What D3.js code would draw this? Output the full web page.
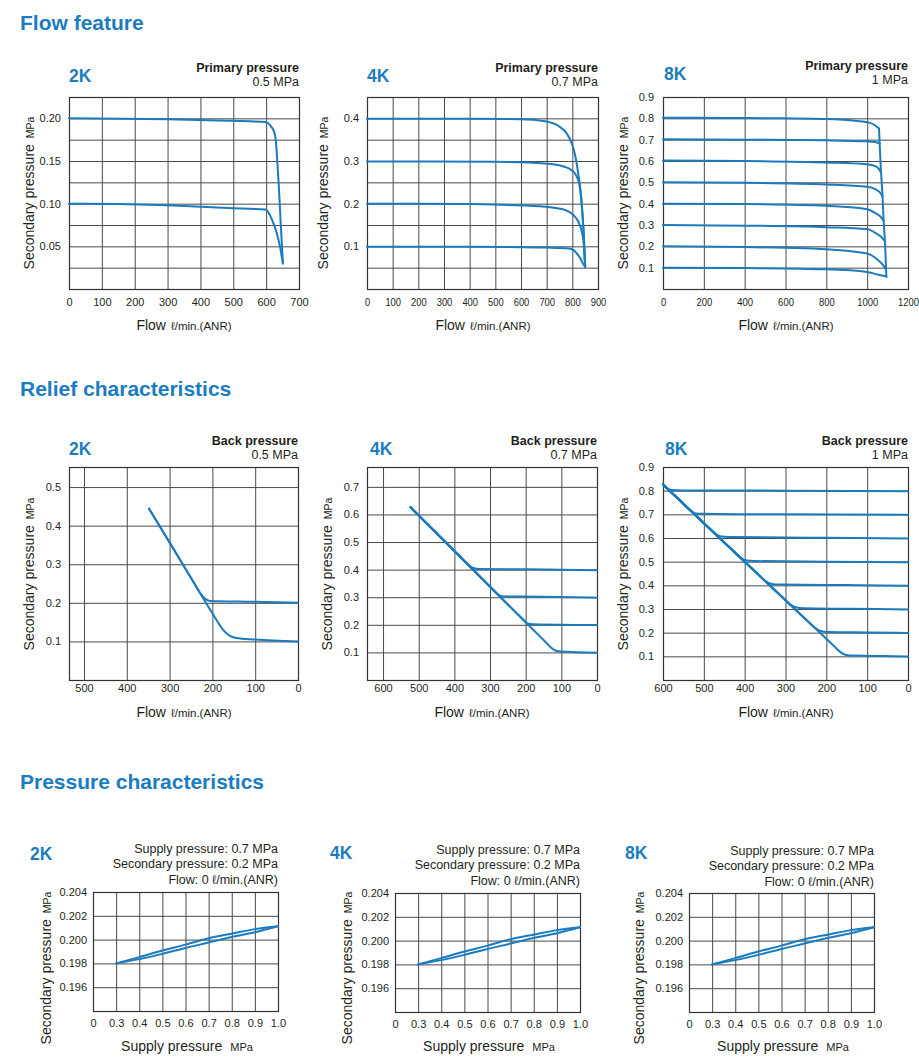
<!DOCTYPE html>
<html><head><meta charset="utf-8">
<script src="https://cdn.jsdelivr.net/npm/d3@7"></script>
<style>
body{margin:0;background:#fff;}
svg{display:block;font-family:"Liberation Sans",Arial,Helvetica,sans-serif;}
</style></head><body>
<svg id="c" width="919" height="1057"></svg>
<script>
// ---------- DATA ----------
const sectionTitles = ["Flow feature", "Relief characteristics", "Pressure characteristics"];
const sizeNames = ["2K", "4K", "8K"];
const primaryPressures = ["0.5 MPa", "0.7 MPa", "1 MPa"];

// Flow feature tick values / labels
const flow2K_xTicks = [0,100,200,300,400,500,600,700];
const flow2K_yTicks = [0.05,0.10,0.15,0.20];
const flow2K_yTickLabels = ["0.05","0.10","0.15","0.20"];
const flow2K_yGrid = [0.025,0.05,0.075,0.1,0.125,0.15,0.175,0.2];
const flow4K_xTicks = [0,100,200,300,400,500,600,700,800,900];
const flow4K_yTicks = [0.1,0.2,0.3,0.4];
const flow4K_yGrid = [0.05,0.1,0.15,0.2,0.25,0.3,0.35,0.4];
const flow8K_xTicks = [0,200,400,600,800,1000,1200];
const flow8K_yTicks = [0.1,0.2,0.3,0.4,0.5,0.6,0.7,0.8,0.9];

// Flow feature series [flow, secondary pressure]
const flow2K_s020 = [[0,0.2],[150,0.1995],[300,0.199],[450,0.1975],[550,0.1965],[597,0.1958],[616,0.19],[626,0.182],[630,0.172],[634,0.149],[639,0.118],[644,0.079],[651,0.03]];
const flow2K_s010 = [[0,0.1],[150,0.0995],[300,0.098],[450,0.0955],[550,0.094],[597,0.0932],[608,0.089],[618,0.081],[631,0.067],[643,0.048],[651,0.03]];

const flow4K_s040 = [[0,0.399],[300,0.399],[600,0.398],[694,0.393],[746,0.382],[779,0.364],[798,0.341],[811,0.3135],[824,0.267],[835,0.212],[844,0.134],[850,0.052]];
const flow4K_s030 = [[0,0.299],[250,0.299],[499,0.298],[694,0.294],[772,0.286],[798,0.278],[814,0.267],[827,0.247],[835,0.208],[844,0.132],[850,0.052]];
const flow4K_s020 = [[0,0.2],[200,0.2],[400,0.199],[550,0.197],[694,0.193],[772,0.185],[805,0.173],[824,0.157],[837,0.134],[845,0.103],[850,0.052]];
const flow4K_s010 = [[0,0.099],[300,0.099],[600,0.098],[700,0.097],[785,0.095],[805,0.091],[818,0.083],[831,0.072],[841,0.06],[850,0.052]];

const flow8K_s080 = [[0,0.803],[300,0.802],[600,0.8],[800,0.797],[950,0.788],[1000,0.782],[1035,0.77],[1058,0.752]];
const flow8K_s070 = [[0,0.702],[400,0.7],[800,0.697],[1000,0.692],[1040,0.689],[1061,0.683]];
const flow8K_s060 = [[0,0.602],[400,0.6],[800,0.593],[1000,0.585],[1040,0.576],[1058,0.562],[1068,0.545]];
const flow8K_s050 = [[0,0.5],[400,0.498],[800,0.49],[1000,0.479],[1040,0.468],[1060,0.455],[1075,0.435]];
const flow8K_s040 = [[0,0.4],[400,0.398],[800,0.39],[1000,0.374],[1040,0.356],[1065,0.34],[1080,0.32]];
const flow8K_s030 = [[0,0.3],[400,0.297],[800,0.29],[1000,0.281],[1040,0.263],[1068,0.245],[1086,0.225]];
const flow8K_s020 = [[0,0.2],[400,0.197],[600,0.193],[800,0.186],[1000,0.166],[1050,0.138],[1075,0.115],[1090,0.095]];
const flow8K_s010 = [[0,0.1],[400,0.098],[800,0.092],[1000,0.08],[1050,0.068],[1080,0.062],[1094,0.058]];
const flow8K_envelope = [[1058,0.752],[1066,0.58],[1075,0.44],[1081,0.315],[1088,0.206],[1094,0.058]];

// Relief characteristics
const backPressures = ["0.5 MPa", "0.7 MPa", "1 MPa"];
const relief2K_xTicks = [500,400,300,200,100,0];
const relief2K_yTicks = [0.1,0.2,0.3,0.4,0.5];
const relief4K_xTicks = [600,500,400,300,200,100,0];
const relief4K_yTicks = [0.1,0.2,0.3,0.4,0.5,0.6,0.7];
const relief8K_xTicks = [600,500,400,300,200,100,0];
const relief8K_yTicks = [0.1,0.2,0.3,0.4,0.5,0.6,0.7,0.8,0.9];

const relief2K_s020 = [[348,0.444],[290,0.338],[240,0.246],[229,0.226],[215,0.209],[205,0.205],[100,0.203],[0,0.2]];
const relief2K_s010 = [[348,0.444],[290,0.338],[240,0.246],[200,0.173],[175,0.13],[160,0.115],[145,0.109],[100,0.105],[0,0.1]];

const relief4K_s040 = [[523,0.626],[400,0.4673],[380,0.4415],[365,0.422],[345,0.405],[330,0.402],[200,0.401],[0,0.398]];
const relief4K_s030 = [[523,0.626],[400,0.4673],[300,0.3383],[285,0.319],[272,0.306],[260,0.303],[150,0.302],[0,0.298]];
const relief4K_s020 = [[523,0.626],[400,0.4673],[225,0.2416],[208,0.22],[195,0.205],[180,0.202],[0,0.199]];
const relief4K_s010 = [[523,0.626],[400,0.4673],[145,0.1384],[130,0.119],[115,0.106],[100,0.103],[0,0.099]];

const relief8K_s080 = [[600,0.826],[590,0.81],[580,0.803],[550,0.801],[300,0.8],[0,0.798]];
const relief8K_s070 = [[600,0.826],[550,0.7445],[535,0.72],[522,0.705],[505,0.702],[300,0.7],[0,0.698]];
const relief8K_s060 = [[600,0.826],[490,0.6467],[474,0.621],[460,0.607],[440,0.604],[200,0.601],[0,0.598]];
const relief8K_s050 = [[600,0.826],[427,0.544],[412,0.52],[398,0.506],[378,0.503],[200,0.5],[0,0.498]];
const relief8K_s040 = [[600,0.826],[400,0.5],[366,0.4446],[351,0.42],[336,0.407],[315,0.403],[150,0.401],[0,0.398]];
const relief8K_s030 = [[600,0.826],[400,0.5],[305,0.3452],[290,0.321],[275,0.307],[255,0.303],[150,0.301],[0,0.298]];
const relief8K_s020 = [[600,0.826],[400,0.5],[243,0.2441],[228,0.22],[214,0.207],[195,0.203],[100,0.201],[0,0.199]];
const relief8K_s010 = [[600,0.826],[400,0.5],[182,0.1447],[167,0.12],[152,0.106],[130,0.103],[60,0.101],[0,0.099]];

// Pressure characteristics
const pressureNotes = ["Supply pressure: 0.7 MPa", "Secondary pressure: 0.2 MPa", "Flow: 0 \u2113/min.(ANR)"];
const supply_xTicks = [0.2,0.3,0.4,0.5,0.6,0.7,0.8,0.9,1.0];
const supply_xTickLabels = ["0","0.3","0.4","0.5","0.6","0.7","0.8","0.9","1.0"];
const supply_yTicks = [0.196,0.198,0.200,0.202,0.204];
const supply_yTickLabels = ["0.196","0.198","0.200","0.202","0.204"];
const supply_rising = [[0.3,0.198],[0.4,0.19853],[0.5,0.19908],[0.6,0.19958],[0.7,0.20012],[0.8,0.2005],[0.9,0.20088],[1.0,0.20112]];
const supply_falling = [[0.3,0.198],[0.4,0.19836],[0.5,0.1988],[0.6,0.1993],[0.7,0.19975],[0.8,0.20022],[0.9,0.20062],[1.0,0.20112]];

// ---------- DRAWING ----------
const BLUE_TEXT = "#1b7cc1";
const BLUE_LINE = "#1a7bbf";
const GRID = "#4a4a4a";
const TXT = "#231f20";
const svg = d3.select("#c");

function fmt1(d){ return d3.format(".1f")(d); }

function panel(o) {
  const [x0,x1,y0,y1] = o.frame;
  const x = d3.scaleLinear().domain(o.xDomain).range([x0,x1]);
  const y = d3.scaleLinear().domain(o.yDomain).range([y1,y0]);
  const g = svg.append("g");

  // grid
  const gx = g.append("g").attr("transform",`translate(0,${y1})`)
    .call(d3.axisBottom(x).tickValues(o.xGrid).tickSize(-(y1-y0)).tickFormat(""));
  gx.select(".domain").remove();
  const gy = g.append("g").attr("transform",`translate(${x0},0)`)
    .call(d3.axisLeft(y).tickValues(o.yGrid).tickSize(-(x1-x0)).tickFormat(""));
  gy.select(".domain").remove();
  g.selectAll(".tick line").attr("stroke",GRID).attr("stroke-width",1);
  g.append("rect").attr("x",x0+0.5).attr("y",y0+0.5).attr("width",x1-x0).attr("height",y1-y0)
    .attr("fill","none").attr("stroke","#333").attr("stroke-width",1.2);

  // tick labels
  const xa = g.append("g").attr("transform",`translate(0,${y1})`)
    .call(d3.axisBottom(x).tickValues(o.xTicks).tickFormat((d,i)=>o.xTickLabels ? o.xTickLabels[i] : String(d)).tickSize(0).tickPadding(o.xPad));
  xa.select(".domain").remove();
  xa.attr("font-family",null).attr("font-size",null);
  xa.selectAll("text").attr("font-size",11).attr("fill",TXT);
  if (o.xScaleX) xa.selectAll("text").attr("transform",`scale(${o.xScaleX},1)`);

  const ya = g.append("g").attr("transform",`translate(${x0},0)`)
    .call(d3.axisLeft(y).tickValues(o.yTicks).tickFormat((d,i)=>o.yTickLabels ? o.yTickLabels[i] : fmt1(d)).tickSize(0).tickPadding(o.yPad));
  ya.select(".domain").remove();
  ya.attr("font-family",null).attr("font-size",null);
  ya.selectAll("text").attr("font-size",11).attr("fill",TXT);

  // series
  const line = d3.line().x(d=>x(d[0])).y(d=>y(d[1])).curve(d3.curveMonotoneX);
  g.append("g").selectAll("path").data(o.series).join("path")
    .attr("d",line).attr("fill","none").attr("stroke",BLUE_LINE)
    .attr("stroke-width",2).attr("stroke-linejoin","round").attr("stroke-linecap","round");

  // name (2K etc.)
  g.append("text").attr("x",o.nameX).attr("y",o.nameY).text(o.name)
    .attr("font-size",17.5).attr("font-weight","bold").attr("fill",BLUE_TEXT);

  // header lines
  o.header.forEach(h => {
    g.append("text").attr("x",x1).attr("y",h.y).attr("text-anchor","end")
      .attr("font-size",12.5).attr("font-weight",h.bold ? "bold" : "normal").attr("fill",TXT).text(h.text);
  });

  // y label
  const yl = g.append("text").attr("transform",`translate(${o.yLabelX},${o.yLabelY}) rotate(-90)`)
    .attr("text-anchor","middle").attr("dy","0.35em").attr("fill",TXT);
  yl.append("tspan").attr("font-size",14).text("Secondary pressure");
  yl.append("tspan").attr("font-size",10.5).attr("dx",6).text("MPa");

  // x label
  const xl = g.append("text").attr("x",o.xLabelX).attr("y",o.xLabelY).attr("text-anchor","middle").attr("fill",TXT);
  xl.append("tspan").attr("font-size",14).text(o.xLabel[0]);
  xl.append("tspan").attr("font-size",o.xLabel[2] || 11.5).attr("dx",o.xLabel[3] || 5).text(o.xLabel[1]);
}

// section titles
[30, 396, 789].forEach((yy,i) => {
  svg.append("text").attr("x",20).attr("y",yy).text(sectionTitles[i])
    .attr("font-size",21).attr("font-weight","bold").attr("fill",BLUE_TEXT);
});

const flowLabel = ["Flow", "\u2113/min.(ANR)", 11.5, 5];

// Row 1: Flow feature
panel({frame:[69,299,97,289], xDomain:[0,700], yDomain:[0,0.225],
  xGrid:flow2K_xTicks, yGrid:flow2K_yGrid, xTicks:flow2K_xTicks, yTicks:flow2K_yTicks, yTickLabels:flow2K_yTickLabels,
  xPad:9, yPad:8, series:[flow2K_s020, flow2K_s010], name:sizeNames[0], nameX:69, nameY:82,
  header:[{text:"Primary pressure",bold:true,y:72},{text:primaryPressures[0],y:86}],
  yLabelX:28, yLabelY:193, xLabel:flowLabel, xLabelX:184, xLabelY:330});
panel({frame:[367,598,97,289], xDomain:[0,900], yDomain:[0,0.45],
  xGrid:flow4K_xTicks, yGrid:flow4K_yGrid, xTicks:flow4K_xTicks, yTicks:flow4K_yTicks, xScaleX:0.85,
  xPad:9, yPad:8, series:[flow4K_s040, flow4K_s030, flow4K_s020, flow4K_s010], name:sizeNames[1], nameX:367, nameY:82,
  header:[{text:"Primary pressure",bold:true,y:72},{text:primaryPressures[1],y:86}],
  yLabelX:322, yLabelY:193, xLabel:flowLabel, xLabelX:483, xLabelY:330});
panel({frame:[663,908,97,289], xDomain:[0,1200], yDomain:[0,0.9],
  xGrid:flow8K_xTicks, yGrid:flow8K_yTicks, xTicks:flow8K_xTicks, yTicks:flow8K_yTicks, xScaleX:0.86,
  xPad:9, yPad:9, series:[flow8K_s080, flow8K_s070, flow8K_s060, flow8K_s050, flow8K_s040, flow8K_s030, flow8K_s020, flow8K_s010, flow8K_envelope],
  name:sizeNames[2], nameX:664, nameY:80,
  header:[{text:"Primary pressure",bold:true,y:70},{text:primaryPressures[2],y:84}],
  yLabelX:622, yLabelY:193, xLabel:flowLabel, xLabelX:786, xLabelY:330});

// Row 2: Relief characteristics
panel({frame:[69,298,467,680], xDomain:[535,0], yDomain:[0,0.552],
  xGrid:relief2K_xTicks, yGrid:relief2K_yTicks, xTicks:relief2K_xTicks, yTicks:relief2K_yTicks,
  xPad:4, yPad:8, series:[relief2K_s020, relief2K_s010], name:sizeNames[0], nameX:69, nameY:455,
  header:[{text:"Back pressure",bold:true,y:445},{text:backPressures[0],y:459}],
  yLabelX:28, yLabelY:574, xLabel:flowLabel, xLabelX:184, xLabelY:717});
panel({frame:[367,597,467,680], xDomain:[645,0], yDomain:[0,0.772],
  xGrid:relief4K_xTicks, yGrid:relief4K_yTicks, xTicks:relief4K_xTicks, yTicks:relief4K_yTicks,
  xPad:4, yPad:8, series:[relief4K_s040, relief4K_s030, relief4K_s020, relief4K_s010], name:sizeNames[1], nameX:370, nameY:455,
  header:[{text:"Back pressure",bold:true,y:445},{text:backPressures[1],y:459}],
  yLabelX:326, yLabelY:574, xLabel:flowLabel, xLabelX:482, xLabelY:717});
panel({frame:[663,908,467,680], xDomain:[600,0], yDomain:[0,0.9],
  xGrid:relief8K_xTicks, yGrid:relief8K_yTicks, xTicks:relief8K_xTicks, yTicks:relief8K_yTicks,
  xPad:4, yPad:9, series:[relief8K_s080, relief8K_s070, relief8K_s060, relief8K_s050, relief8K_s040, relief8K_s030, relief8K_s020, relief8K_s010],
  name:sizeNames[2], nameX:665, nameY:455,
  header:[{text:"Back pressure",bold:true,y:445},{text:backPressures[2],y:459}],
  yLabelX:622, yLabelY:574, xLabel:flowLabel, xLabelX:786, xLabelY:717});

// Row 3: Pressure characteristics
const supplyLabel = ["Supply pressure", "MPa", 11, 8];
[[93,278,892,1011, 30,860, 853, 45, 187],
 [395,580,893,1012, 330,859, 854, 346, 489],
 [689,874,893,1012, 625,859, 855, 638, 783]].forEach((p,i) => {
  panel({frame:[p[0],p[1],p[2],p[3]], xDomain:[0.2,1.0], yDomain:[0.194,0.204],
    xGrid:supply_xTicks, yGrid:supply_yTicks, xTicks:supply_xTicks, xTickLabels:supply_xTickLabels,
    yTicks:supply_yTicks, yTickLabels:supply_yTickLabels,
    xPad:8, yPad:6, series:[supply_rising, supply_falling], name:sizeNames[i], nameX:p[4], nameY:p[5],
    header:pressureNotes.map((t,k)=>({text:t, y:p[6]+k*15.3})),
    yLabelX:p[7], yLabelY:968, xLabel:supplyLabel, xLabelX:p[8], xLabelY:1051});
});
</script>
</body></html>
